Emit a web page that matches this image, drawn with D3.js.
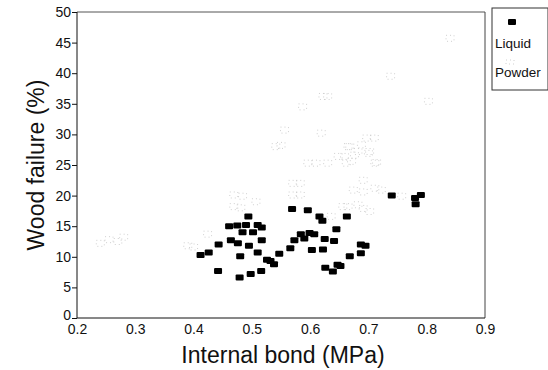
<!DOCTYPE html>
<html>
<head>
<meta charset="utf-8">
<script src="https://cdn.jsdelivr.net/npm/d3@7"></script>
<style>
  body { margin: 0; background: #fff; }
  svg { font-family: "Liberation Sans", Arial, sans-serif; }
</style>
</head>
<body>
<div id="chart"></div>
<script>
// liquid resin: internal bond (MPa), wood failure (%)
const liquidIB = [0.412, 0.426, 0.443, 0.442, 0.461, 0.464, 0.476, 0.475, 0.490, 0.494,
  0.484, 0.502, 0.495, 0.480, 0.479, 0.498, 0.510, 0.517, 0.517, 0.510,
  0.516, 0.526, 0.538, 0.547, 0.566, 0.569, 0.596, 0.573, 0.584, 0.599,
  0.607, 0.590, 0.603, 0.616, 0.621, 0.663, 0.645, 0.625, 0.641, 0.622,
  0.668, 0.687, 0.687, 0.695, 0.626, 0.647, 0.652, 0.639, 0.740, 0.780,
  0.790, 0.781, 0.532];
const liquidWF = [10.3, 10.7, 12.0, 7.7, 15.0, 12.7, 12.2, 15.1, 15.2, 16.6,
  14.0, 14.0, 11.8, 10.1, 6.6, 7.2, 15.2, 14.8, 12.7, 10.7,
  7.7, 9.5, 8.8, 10.5, 11.4, 17.8, 17.6, 12.7, 13.7, 13.9,
  13.7, 13.0, 11.1, 16.6, 15.9, 16.6, 14.5, 12.9, 12.6, 11.2,
  10.1, 10.6, 12.0, 11.8, 8.2, 8.7, 8.5, 7.6, 20.0, 19.6,
  20.1, 18.6, 9.3];

// powder resin
const powderIB = [0.240, 0.255, 0.270, 0.280, 0.390, 0.400, 0.424, 0.469, 0.484, 0.469,
  0.481, 0.507, 0.570, 0.583, 0.570, 0.583, 0.840, 0.738, 0.630, 0.622,
  0.587, 0.803, 0.556, 0.619, 0.541, 0.550, 0.648, 0.665, 0.697, 0.710,
  0.676, 0.700, 0.596, 0.610, 0.662, 0.711, 0.668, 0.688, 0.682, 0.702,
  0.659, 0.671, 0.630, 0.714, 0.691, 0.674, 0.691, 0.711, 0.722, 0.757,
  0.656, 0.665, 0.682, 0.691, 0.636, 0.702];
const powderWF = [12.2, 12.8, 12.5, 13.2, 11.8, 11.6, 13.7, 20.1, 19.9, 18.2,
  18.0, 19.0, 22.0, 22.0, 20.1, 20.1, 45.7, 39.5, 36.2, 36.2,
  34.5, 35.4, 30.7, 30.2, 28.0, 28.2, 26.4, 28.0, 29.4, 29.4,
  26.6, 26.9, 25.3, 25.3, 25.3, 25.3, 28.0, 28.3, 27.2, 27.2,
  26.4, 25.6, 25.3, 25.4, 22.5, 20.9, 20.6, 21.2, 20.9, 19.9,
  18.2, 18.2, 18.5, 17.9, 16.6, 17.4];

const xTicks = [0.2, 0.3, 0.4, 0.5, 0.6, 0.7, 0.8, 0.9];
const yTicks = [0, 5, 10, 15, 20, 25, 30, 35, 40, 45, 50];
const seriesNames = ["Liquid", "Powder"];

const W = 548, H = 370;
const margin = { top: 12, right: 63, bottom: 52, left: 77 };
const width = W - margin.left - margin.right;
const height = H - margin.top - margin.bottom;

const svg = d3.select("#chart").append("svg")
  .attr("width", W)
  .attr("height", H);

const g = svg.append("g")
  .attr("transform", "translate(" + margin.left + "," + margin.top + ")");

const x = d3.scaleLinear().domain([0.2, 0.9]).range([0, width]);
const y = d3.scaleLinear().domain([0, 50]).range([height, 0]);

// top and right frame lines
g.append("line").attr("x1", 0).attr("x2", width).attr("y1", 0).attr("y2", 0)
  .attr("stroke", "#555").attr("stroke-width", 1);
g.append("line").attr("x1", width).attr("x2", width).attr("y1", 0).attr("y2", height)
  .attr("stroke", "#444").attr("stroke-width", 1);

// y axis
const yAxis = g.append("g")
  .call(d3.axisLeft(y).tickValues(yTicks).tickSize(5).tickPadding(1).tickFormat(d3.format("d")));
yAxis.selectAll("text").attr("font-size", 14).attr("fill", "#111");
yAxis.selectAll("line, path").attr("stroke", "#111");
yAxis.select(".domain").attr("d", "M0," + height + "V0");
// nudge the "0" up a little so it clears "0.2"
yAxis.selectAll(".tick text").filter(d => d === 0).attr("dy", "0.1em");

// x axis
const xAxis = g.append("g")
  .attr("transform", "translate(0," + height + ")")
  .call(d3.axisBottom(x).tickValues(xTicks).tickSize(0).tickPadding(6).tickFormat(d3.format(".1f")));
xAxis.selectAll("text").attr("font-size", 14).attr("fill", "#111");
xAxis.select(".domain").attr("stroke", "#111").attr("d", "M0,0H" + width);

// axis titles
svg.append("text")
  .attr("transform", "translate(44," + (margin.top + height / 2) + ") rotate(-90)")
  .attr("text-anchor", "middle")
  .attr("font-size", 23)
  .attr("fill", "#111")
  .text("Wood failure (%)");

svg.append("text")
  .attr("x", margin.left + width / 2 + 2)
  .attr("y", 363)
  .attr("text-anchor", "middle")
  .attr("font-size", 23)
  .attr("fill", "#111")
  .text("Internal bond (MPa)");

// powder points: faint speckled marks
const powder = powderIB.map((v, i) => ({ ib: v, wf: powderWF[i] }));
g.selectAll("rect.powder")
  .data(powder)
  .enter()
  .append("rect")
  .attr("class", "powder")
  .attr("x", d => x(d.ib) - 4)
  .attr("y", d => y(d.wf) - 3)
  .attr("width", 8)
  .attr("height", 6)
  .attr("fill", "none")
  .attr("stroke", "#c4c4c4")
  .attr("stroke-width", 0.8)
  .attr("stroke-dasharray", "1,3");

// liquid points: solid black squares
const liquid = liquidIB.map((v, i) => ({ ib: v, wf: liquidWF[i] }));
g.selectAll("rect.liquid")
  .data(liquid)
  .enter()
  .append("rect")
  .attr("class", "liquid")
  .attr("x", d => x(d.ib) - 4)
  .attr("y", d => y(d.wf) - 3)
  .attr("width", 8)
  .attr("height", 6)
  .attr("rx", 1)
  .attr("fill", "#000");

// legend
const legend = svg.append("g").attr("transform", "translate(492,8)");
legend.append("rect")
  .attr("x", 0).attr("y", 0)
  .attr("width", 56).attr("height", 82)
  .attr("fill", "#fff")
  .attr("stroke", "#333")
  .attr("stroke-width", 1);
legend.append("rect")
  .attr("x", 16).attr("y", 11)
  .attr("width", 8).attr("height", 6)
  .attr("rx", 1)
  .attr("fill", "#000");
legend.append("rect")
  .attr("x", 14).attr("y", 52)
  .attr("width", 8).attr("height", 4)
  .attr("fill", "none")
  .attr("stroke", "#c4c4c4")
  .attr("stroke-width", 0.8)
  .attr("stroke-dasharray", "1,3");
legend.selectAll("text.lab")
  .data(seriesNames)
  .enter()
  .append("text")
  .attr("class", "lab")
  .attr("x", 3)
  .attr("y", (d, i) => 40 + i * 29)
  .attr("font-size", 13.5)
  .attr("fill", "#111")
  .text(d => d);
</script>
</body>
</html>
